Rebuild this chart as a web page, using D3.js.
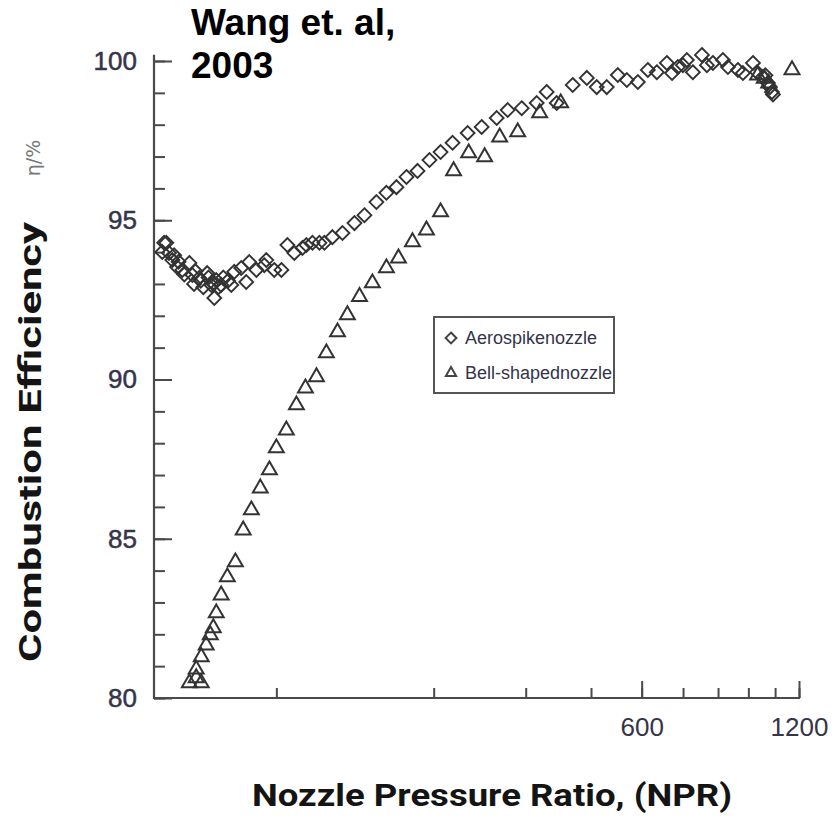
<!DOCTYPE html>
<html>
<head>
<meta charset="utf-8">
<script src="https://cdn.jsdelivr.net/npm/d3@7"></script>
<style>
  body { margin: 0; background: #fff; }
  svg { display: block; }
</style>
</head>
<body>
<div id="chart"></div>
<script>
const width = 836
const height = 819

// Aerospike nozzle (diamonds)
const aeroNPR = [72.6, 73.2, 73.9, 74.8, 75.9, 76.5, 77.5, 78.0, 79.3, 80.0, 81.8, 82.9, 83.5, 84.0, 85.4, 86.0, 87.0, 88.5, 89.0, 90.1,
    91.0, 91.3, 92.1, 93.0, 94.1, 95.0, 97.0, 98.4, 99.7, 102.8, 105.1, 106.5, 109.9, 113.8, 114.8, 118.9, 122.7, 126.0, 129.9, 134.6,
    137.0, 140.7, 145.1, 148.3, 153.6, 160.6, 169.3, 176.9, 186.5, 194.9, 203.7, 212.9, 223.5, 235.6, 247.4, 260.8, 278.7, 296.5, 316.8, 332.5,
    353.7, 377.8, 394.8, 412.7, 442.8, 471.2, 492.2, 514.5, 540.1, 562.0, 590.0, 616.5, 641.5, 670.4, 686.0, 703.7, 719.5, 732.2, 751.8, 782.4,
    799.8, 821.1, 858.2, 877.4, 916.8, 937.3, 979.7, 997.1, 1023.7, 1035.0, 1046.5, 1055.7, 1065.2, 1069.9]
const aeroEta = [94.00, 94.29, 94.29, 93.97, 93.75, 93.90, 93.53, 93.70, 93.44, 93.30, 93.66, 93.28, 93.00, 93.40, 93.19, 93.10, 92.90, 93.34, 93.20, 92.97,
    93.00, 92.56, 93.12, 92.90, 92.97, 93.20, 93.10, 92.97, 93.38, 93.50, 93.06, 93.69, 93.44, 93.59, 93.75, 93.44, 93.44, 94.22, 93.97, 94.13,
    94.22, 94.29, 94.29, 94.29, 94.47, 94.60, 94.91, 95.16, 95.57, 95.86, 96.04, 96.36, 96.55, 96.89, 97.14, 97.43, 97.74, 97.93, 98.21, 98.46,
    98.52, 98.68, 99.03, 98.68, 99.25, 99.47, 99.18, 99.18, 99.56, 99.40, 99.34, 99.72, 99.65, 99.94, 99.62, 99.81, 99.87, 100.03, 99.65, 100.19,
    99.87, 99.94, 100.03, 99.81, 99.72, 99.62, 99.94, 99.65, 99.50, 99.55, 99.31, 99.18, 99.03, 98.95]

// Bell-shaped nozzle (triangles)
const bellNPR = [81.8, 84.3, 84.3, 86.2, 86.2, 88.1, 89.7, 90.9, 92.1, 94.1, 96.7, 100.2, 103.7, 107.5, 111.8, 116.4, 120.0, 125.4, 131.1, 136.4,
    143.2, 149.6, 157.1, 164.1, 173.1, 183.2, 194.9, 205.5, 218.6, 232.5, 247.4, 262.0, 280.0, 300.4, 321.0, 347.5, 382.8, 420.0, 1000.0, 1030.0,
    1050.0, 1163.6]
const bellEta = [80.47, 80.63, 80.90, 80.47, 81.29, 81.66, 81.98, 82.20, 82.67, 83.23, 83.80, 84.27, 85.27, 85.90, 86.59, 87.16, 87.85, 88.41, 89.20, 89.73,
    90.08, 90.83, 91.49, 92.03, 92.60, 93.03, 93.50, 93.81, 94.32, 94.69, 95.26, 96.55, 97.11, 96.99, 97.61, 97.77, 98.37, 98.68, 99.55, 99.45,
    99.30, 99.72]

const xMinorTicks = [120, 240, 360, 480, 600, 720, 840, 960, 1080, 1200]
const xMajorTicks = [600, 1200]
const yMinorTicks = d3.range(80, 101, 1)
const yMajorTicks = [80, 85, 90, 95, 100]

const legendLabels = ["Aerospikenozzle", "Bell-shapednozzle"]

const axisColor = "#4a4a4a"
const markColor = "#333333"
const labelColor = "#34344a"

const svg = d3.select("#chart").append("svg")
    .attr("width", width)
    .attr("height", height)

const x = d3.scaleLog().domain([70, 1200]).range([154, 799])
const y = d3.scaleLinear().domain([80, 100]).range([698, 61])

// ejes: ticks hacia adentro
const ejes = svg.append("g").attr("id", "ejes")

ejes.append("g")
    .attr("transform", `translate(0, ${y(80)})`)
    .call(d3.axisBottom(x).tickValues(xMinorTicks).tickSize(-10).tickFormat(""))
    .call(g => g.select(".domain").remove())

const xMajor = ejes.append("g")
    .attr("transform", `translate(0, ${y(80)})`)
    .call(d3.axisBottom(x).tickValues(xMajorTicks).tickSize(-17).tickPadding(20).tickFormat(d3.format("d")))
xMajor.select(".domain").remove()
xMajor.selectAll("text")
    .attr("font-size", 26)
    .attr("font-family", "Liberation Sans, Arial, sans-serif")
    .attr("fill", labelColor)

ejes.append("g")
    .attr("transform", `translate(${x(70)}, 0)`)
    .call(d3.axisLeft(y).tickValues(yMinorTicks).tickSize(-11).tickFormat(""))
    .call(g => g.select(".domain").remove())

const yMajor = ejes.append("g")
    .attr("transform", `translate(${x(70)}, 0)`)
    .call(d3.axisLeft(y).tickValues(yMajorTicks).tickSize(-18).tickPadding(17).tickFormat(d3.format("d")))
yMajor.select(".domain").remove()
yMajor.selectAll("text")
    .attr("font-size", 26)
    .attr("font-family", "Liberation Sans, Arial, sans-serif")
    .attr("fill", labelColor)
    .attr("stroke", labelColor)
    .attr("stroke-width", 0.5)

ejes.selectAll(".tick line")
    .attr("stroke", axisColor)
    .attr("stroke-width", 2)

// líneas de los ejes
ejes.append("line")
    .attr("x1", x(70)).attr("x2", x(70))
    .attr("y1", y(100.2)).attr("y2", y(80) + 1)
    .attr("stroke", axisColor).attr("stroke-width", 2.2)
ejes.append("line")
    .attr("x1", x(70) - 1).attr("x2", x(1200) + 1)
    .attr("y1", y(80)).attr("y2", y(80))
    .attr("stroke", axisColor).attr("stroke-width", 2.2)

// puntos
const diamante = d3.symbol(d3.symbolDiamond2, 122)
const triangulo = d3.symbol(d3.symbolTriangle2, 158)

const puntos = svg.append("g").attr("id", "puntos")

puntos.selectAll(".aero")
    .data(d3.zip(aeroNPR, aeroEta))
    .join("path")
    .attr("class", "aero")
    .attr("d", diamante)
    .attr("transform", d => `translate(${x(d[0])}, ${y(d[1])})`)
    .attr("fill", "none")
    .attr("stroke", markColor)
    .attr("stroke-width", 1.9)

puntos.selectAll(".bell")
    .data(d3.zip(bellNPR, bellEta))
    .join("path")
    .attr("class", "bell")
    .attr("d", triangulo)
    .attr("transform", d => `translate(${x(d[0])}, ${y(d[1])})`)
    .attr("fill", "none")
    .attr("stroke", markColor)
    .attr("stroke-width", 2)

// leyenda
const leyenda = svg.append("g").attr("transform", "translate(434, 317)")
leyenda.append("rect")
    .attr("width", 180).attr("height", 76)
    .attr("fill", "white")
    .attr("stroke", "#555").attr("stroke-width", 2)

const simbolosLeyenda = [d3.symbol(d3.symbolDiamond2, 75), d3.symbol(d3.symbolTriangle2, 75)]
const itemLeyenda = leyenda.selectAll(".item")
    .data(legendLabels)
    .join("g")
    .attr("class", "item")
    .attr("transform", (d, i) => `translate(0, ${21 + i * 35})`)

itemLeyenda.append("path")
    .attr("d", (d, i) => simbolosLeyenda[i]())
    .attr("transform", "translate(17, 0)")
    .attr("fill", "none")
    .attr("stroke", "#444")
    .attr("stroke-width", 2)

itemLeyenda.append("text")
    .text(d => d)
    .attr("x", 31)
    .attr("dy", "0.36em")
    .attr("font-size", 18)
    .attr("font-family", "Liberation Sans, Arial, sans-serif")
    .attr("fill", labelColor)

// títulos de los ejes
svg.append("text")
    .text("Combustion Efficiency")
    .attr("transform", "translate(41, 442) rotate(-90)")
    .attr("text-anchor", "middle")
    .attr("font-size", 31)
    .attr("font-weight", "bold")
    .attr("font-family", "Liberation Sans Narrow, Roboto, Liberation Sans, Arial, sans-serif")
    .attr("textLength", 440)
    .attr("lengthAdjust", "spacingAndGlyphs")
    .attr("fill", "#141414")

svg.append("text")
    .text("η/%")
    .attr("transform", "translate(40, 158) rotate(-90)")
    .attr("text-anchor", "middle")
    .attr("font-size", 19)
    .attr("font-family", "DejaVu Sans, sans-serif")
    .attr("fill", "#777")

svg.append("text")
    .text("Nozzle Pressure Ratio, (NPR)")
    .attr("x", 492)
    .attr("y", 806)
    .attr("text-anchor", "middle")
    .attr("font-size", 32)
    .attr("font-weight", "bold")
    .attr("font-family", "Liberation Sans Narrow, Roboto, Liberation Sans, Arial, sans-serif")
    .attr("textLength", 480)
    .attr("lengthAdjust", "spacingAndGlyphs")
    .attr("fill", "#141414")

// anotación
const nota = svg.append("text")
    .attr("font-size", 37)
    .attr("font-weight", "bold")
    .attr("font-family", "Liberation Sans, Arial, sans-serif")
    .attr("fill", "black")
nota.append("tspan").attr("x", 191).attr("y", 35).text("Wang et. al,")
nota.append("tspan").attr("x", 191).attr("y", 78).text("2003")
</script>
</body>
</html>
